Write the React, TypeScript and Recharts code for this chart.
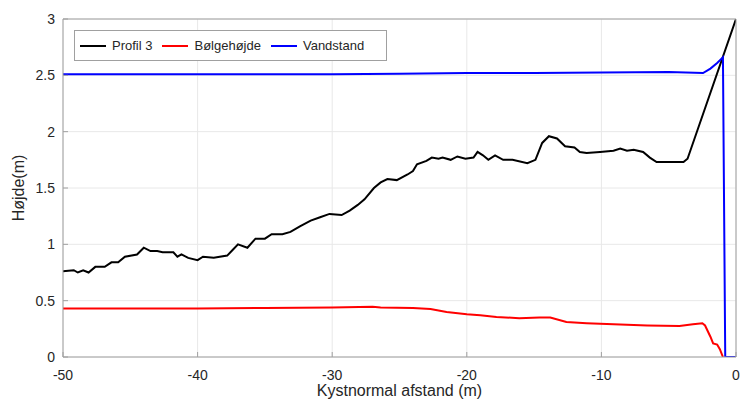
import { LineChart, Line, XAxis, YAxis, CartesianGrid, Legend } from 'recharts'

// Profil 3 (terrain)
const profileX = [-50, -49.2, -48.9, -48.5, -48.1, -47.6, -46.9, -46.4, -45.9, -45.4, -44.5, -44.0, -43.5, -43.0, -42.6, -41.8, -41.5, -41.2, -40.7, -40.0, -39.6, -38.8, -37.8, -37.4, -37.0, -36.3, -35.7, -35.0, -34.5, -33.7, -33.1, -32.4, -31.6, -30.9, -30.2, -29.3, -28.7, -28.1, -27.6, -26.9, -26.4, -25.9, -25.2, -24.4, -24.0, -23.7, -23.0, -22.6, -22.1, -21.8, -21.2, -20.7, -20.1, -19.5, -19.2, -18.8, -18.4, -17.9, -17.3, -16.6, -15.5, -14.9, -14.4, -13.9, -13.3, -12.7, -12.0, -11.6, -11.1, -10.1, -9.1, -8.6, -8.1, -7.6, -6.9, -6.4, -5.9, -3.9, -3.6, 0]
const profileY = [0.76, 0.77, 0.75, 0.77, 0.75, 0.80, 0.80, 0.84, 0.84, 0.89, 0.91, 0.97, 0.94, 0.94, 0.93, 0.93, 0.89, 0.91, 0.88, 0.86, 0.89, 0.88, 0.90, 0.95, 1.00, 0.97, 1.05, 1.05, 1.09, 1.09, 1.11, 1.16, 1.21, 1.24, 1.27, 1.26, 1.30, 1.35, 1.40, 1.50, 1.55, 1.58, 1.57, 1.62, 1.65, 1.71, 1.74, 1.77, 1.76, 1.77, 1.75, 1.78, 1.76, 1.77, 1.82, 1.79, 1.75, 1.79, 1.75, 1.75, 1.72, 1.75, 1.90, 1.96, 1.94, 1.87, 1.86, 1.82, 1.81, 1.82, 1.83, 1.85, 1.83, 1.84, 1.82, 1.77, 1.73, 1.73, 1.76, 3.0]

// Bølgehøjde
const waveX = [-50, -40, -35, -30, -27, -26.4, -24.0, -22.7, -21.5, -20, -19, -17.8, -16.1, -14.6, -13.8, -12.6, -11.1, -9.1, -6.6, -4.2, -3.2, -2.5, -2.3, -1.9, -1.7, -1.4, -1.2, -0.97]
const waveY = [0.43, 0.43, 0.435, 0.44, 0.445, 0.44, 0.435, 0.425, 0.40, 0.38, 0.37, 0.355, 0.345, 0.35, 0.35, 0.31, 0.30, 0.29, 0.28, 0.275, 0.29, 0.30, 0.28, 0.18, 0.12, 0.11, 0.07, 0]

// Vandstand
const waterX = [-50, -40, -30, -25, -20, -15, -10, -5, -2.45, -1.9, -1.4, -0.97, -0.8, 0]
const waterY = [2.51, 2.51, 2.51, 2.515, 2.52, 2.52, 2.525, 2.53, 2.52, 2.56, 2.61, 2.66, 0, 0]

const xTicks = [-50, -40, -30, -20, -10, 0]
const yTicks = [0, 0.5, 1, 1.5, 2, 2.5, 3]

const series = [
  { name: 'Profil 3', color: '#000000' },
  { name: 'Bølgehøjde', color: '#ff0000' },
  { name: 'Vandstand', color: '#0000ff' },
]

const toPoints = (xs: number[], ys: number[]) => xs.map((x, i) => ({ x, y: ys[i] }))

const FONT = '"Liberation Sans", Arial, Helvetica, sans-serif'
const AXIS = '#a0a0a0'
const TEXT = '#262626'

function BoxLegend() {
  return (
    <div style={{ display: 'flex', alignItems: 'center', height: 29, width: 311, border: `1px solid ${AXIS}`, background: '#fff', fontFamily: FONT, fontSize: 13, color: TEXT, boxSizing: 'content-box' }}>
      {series.map((s, i) => (
        <div key={s.name} style={{ display: 'flex', alignItems: 'center', marginLeft: i === 0 ? 5 : 10 }}>
          <div style={{ width: 26, height: 2, background: s.color, marginRight: 6 }} />
          <span>{s.name}</span>
        </div>
      ))}
    </div>
  )
}

export default function App() {
  return (
    <div style={{ position: 'absolute', left: 0, top: 0, background: '#fff' }}>
      <LineChart width={743} height={403} margin={{ top: 18, right: 6, bottom: 0, left: 0 }}>
        <CartesianGrid stroke="#e8e8e8" />
        <XAxis dataKey="x" type="number" domain={[-50, 0]} ticks={xTicks} allowDataOverflow
          height={46} stroke={AXIS} tickSize={-5} tickMargin={18}
          tick={{ fontSize: 14, fill: TEXT, fontFamily: FONT }}
          label={{ value: 'Kystnormal afstand (m)', position: 'insideBottom', offset: 7, fontSize: 16, fill: TEXT, fontFamily: FONT }} />
        <XAxis xAxisId="top" dataKey="x" type="number" domain={[-50, 0]} ticks={xTicks} orientation="top"
          height={1} stroke={AXIS} tickSize={-5} tick={false} />
        <YAxis type="number" domain={[0, 3]} ticks={yTicks} allowDataOverflow
          width={63} stroke={AXIS} tickSize={-5} tickMargin={13}
          tick={{ fontSize: 14, fill: TEXT, fontFamily: FONT }}
          label={{ value: 'Højde(m)', angle: -90, position: 'insideLeft', offset: 18, fontSize: 16, fill: TEXT, fontFamily: FONT, style: { textAnchor: 'middle' } }} />
        <YAxis yAxisId="right" type="number" domain={[0, 3]} ticks={yTicks} orientation="right"
          width={1} stroke={AXIS} tickSize={-5} tick={false} />
        <Legend content={<BoxLegend />} layout="horizontal" verticalAlign="middle"
          wrapperStyle={{ position: 'absolute', left: 74, top: 30, width: 'auto' }} />
        <Line data={toPoints(profileX, profileY)} dataKey="y" name={series[0].name} stroke={series[0].color}
          strokeWidth={2} dot={false} type="linear" isAnimationActive={false} />
        <Line data={toPoints(waveX, waveY)} dataKey="y" name={series[1].name} stroke={series[1].color}
          strokeWidth={2} dot={false} type="linear" isAnimationActive={false} />
        <Line data={toPoints(waterX, waterY)} dataKey="y" name={series[2].name} stroke={series[2].color}
          strokeWidth={2} dot={false} type="linear" isAnimationActive={false} />
      </LineChart>
    </div>
  )
}
